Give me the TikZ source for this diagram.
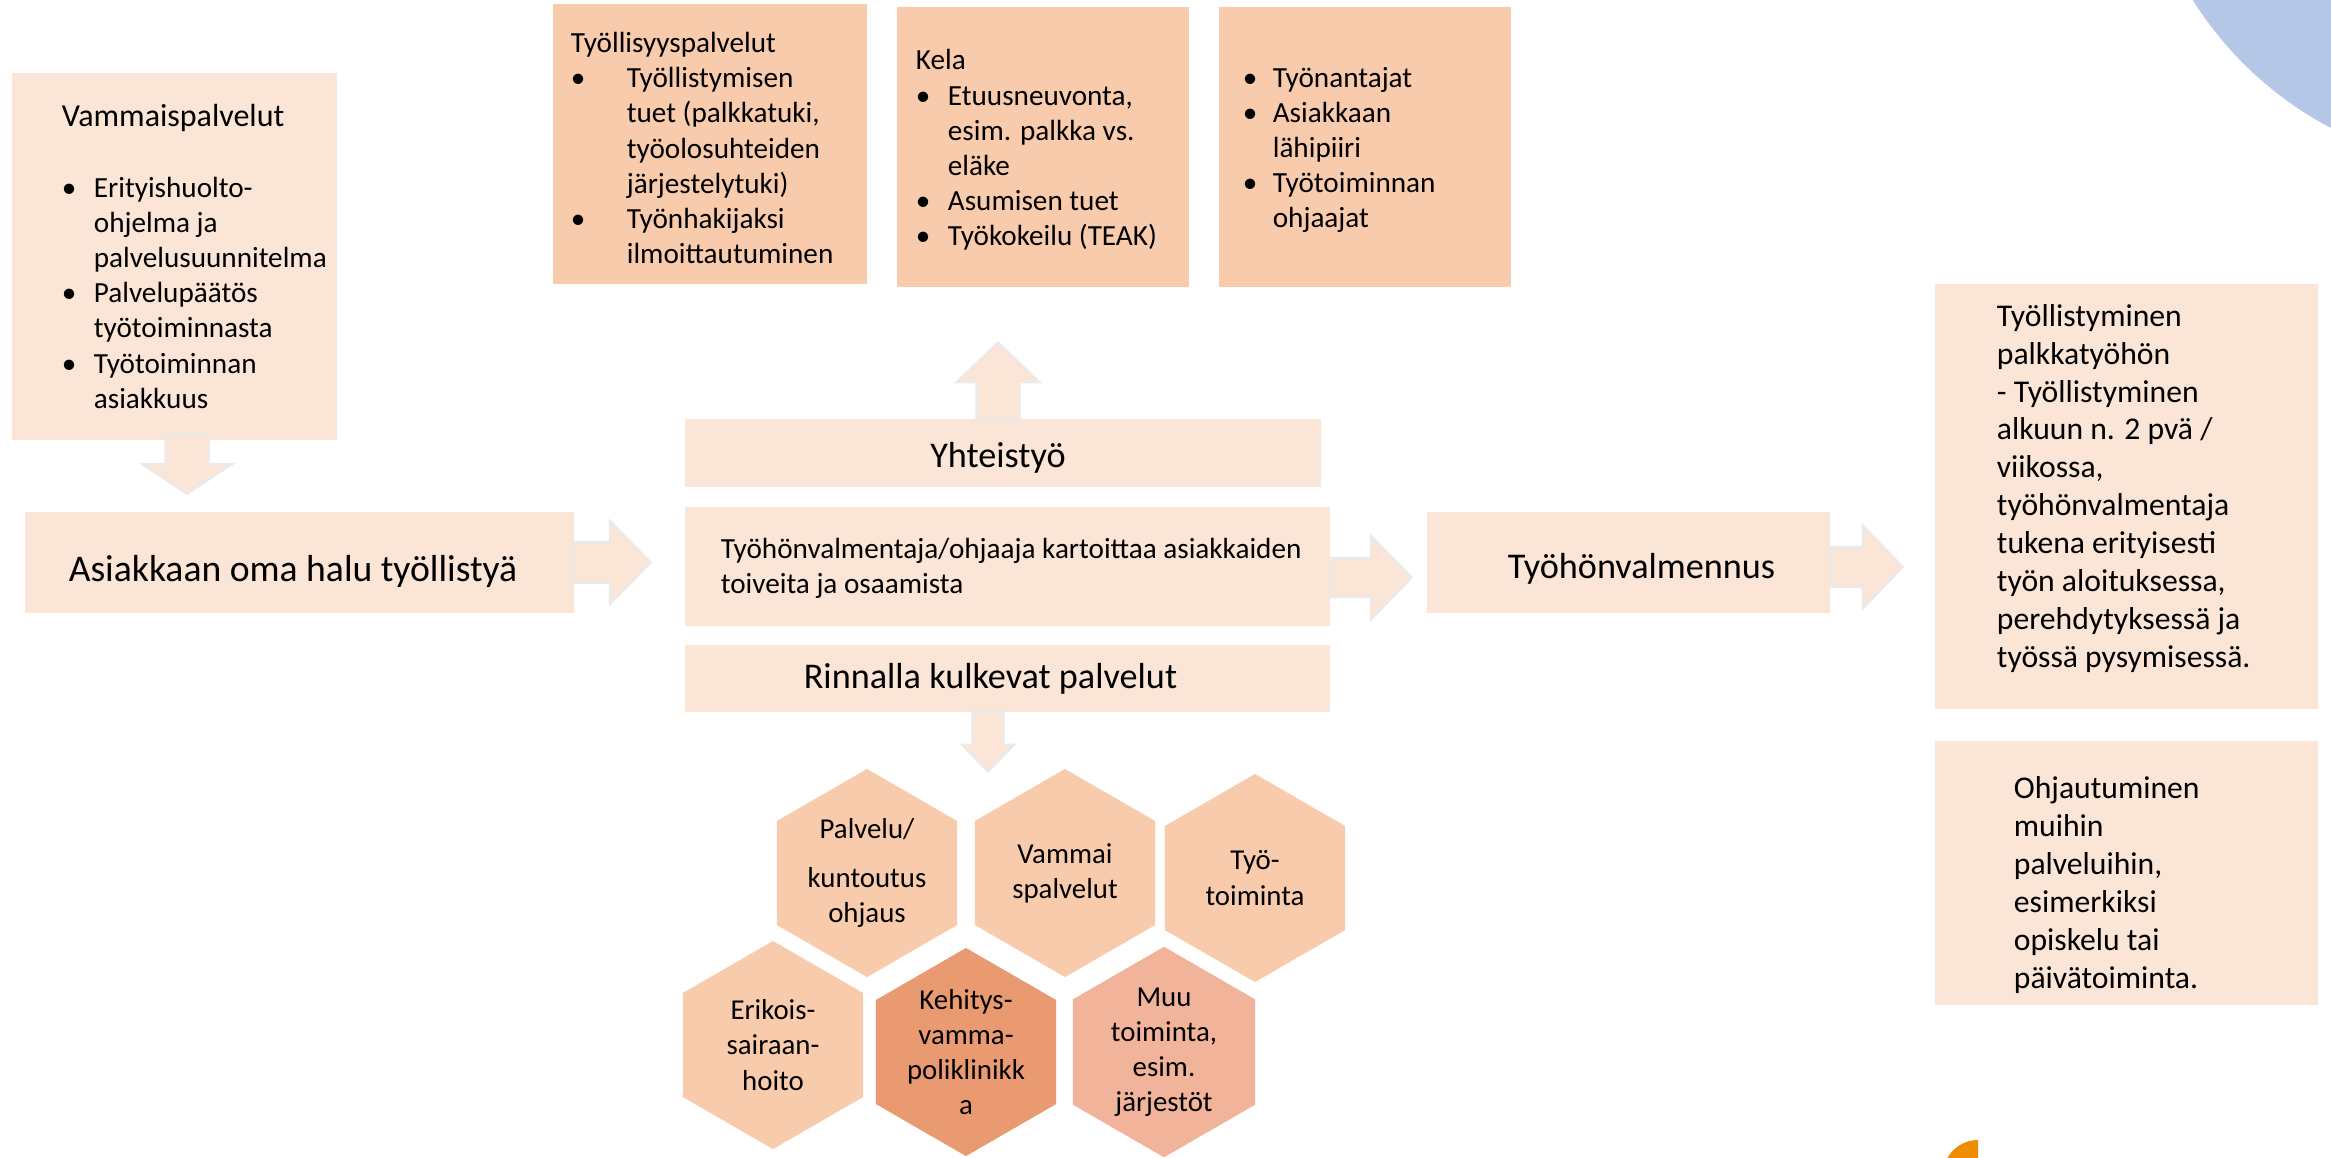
\documentclass[tikz,border=0pt]{standalone}
\usepackage{fontspec}
\setmainfont{Carlito}
\usetikzlibrary{shapes.geometric,calc,positioning}

\definecolor{peachlight}{HTML}{FBE5D6}
\definecolor{peachmid}{HTML}{F8CBAD}
\definecolor{peachdark}{HTML}{EA9A70}
\definecolor{peachpink}{HTML}{F2B39B}
\definecolor{arrowedge}{HTML}{EAEAEA}
\definecolor{circleblue}{HTML}{B4C7E7}
\definecolor{cornerorange}{HTML}{F08C00}

% font sizes
\newcommand\fBig{\fontsize{10.7}{12.8}\selectfont}
\newcommand\fMid{\fontsize{10.3}{12}\selectfont}
\newcommand\fList{\fontsize{8.3}{10}\selectfont}
\newcommand\fHead{\fontsize{9.1}{10}\selectfont}
\newcommand\fHex{\fontsize{8.2}{10}\selectfont}
\newcommand\fSide{\fontsize{9}{10.8}\selectfont}

% bullet and hanging indent
\newcommand\bul[1]{\makebox[#1][l]{\textbullet}}
\newcommand\indt[1]{\hspace*{#1}}

% block arrow: start, rotation, shaft half, shaft length, head half, head length
\newcommand\blockarrow[6]{%
  \filldraw[blockarrow, shift={(#1)}, rotate=#2]
    (0,-#3) -- (#4,-#3) -- (#4,-#5) -- ({#4+#6},0) -- (#4,#5) -- (#4,#3) -- (0,#3) -- cycle;}

\tikzset{
  lightbox/.style={rectangle, fill=peachlight, inner sep=0pt},
  midbox/.style={rectangle, fill=peachmid, inner sep=0pt},
  txt/.style={inner sep=0pt, align=left},
  hexcell/.style={regular polygon, regular polygon sides=6, shape border rotate=90,
    minimum size=2.08cm, inner sep=0pt, fill=peachmid, align=center, font=\fHex},
  blockarrow/.style={fill=peachlight, draw=arrowedge, line width=0.6pt},
}

\begin{document}
\begin{tikzpicture}[x=0.01cm, y=-0.01cm]
  \useasboundingbox (0,0) rectangle (2331,1157);
  \clip (0,0) rectangle (2331,1157);

  % corner shapes
  \fill[circleblue] (2498,-191) circle[radius=360];
  \fill[cornerorange] (1978,1175) -- (1978,1140) arc[start angle=-90, end angle=-180, radius=35] -- cycle;

  % left column
  \node[lightbox, minimum width=3.25cm, minimum height=3.67cm] (vammais) at (174.5,256.5) {};
  \node[txt, anchor=west, font=\fList] (vammaistxt) at ($(vammais.west)+(50,0)$)
    {{\fHead Vammaispalvelut}\\[10pt]
     \bul{9.1pt}Erityishuolto-\\ \indt{9.1pt}ohjelma ja\\ \indt{9.1pt}palvelusuunnitelma\\
     \bul{9.1pt}Palvelupäätös\\ \indt{9.1pt}työtoiminnasta\\
     \bul{9.1pt}Työtoiminnan\\ \indt{9.1pt}asiakkuus};

  \node[lightbox, minimum width=5.49cm, minimum height=1.01cm] (asiakas) at (299.5,562.5) {};
  \node[txt, font=\fBig] (asiakastxt) at ($(asiakas.center)+(-6.5,9)$) {Asiakkaan oma halu työllistyä};

  % top row
  \node[midbox, minimum width=3.14cm, minimum height=2.80cm] (tyollisyys) at (710,144) {};
  \node[txt, anchor=west, font=\fList] (tyollisyystxt) at ($(tyollisyys.west)+(18,4)$)
    {Työllisyyspalvelut\\
     \bul{15.9pt}Työllistymisen\\ \indt{15.9pt}tuet (palkkatuki,\\ \indt{15.9pt}työolosuhteiden\\ \indt{15.9pt}järjestelytuki)\\
     \bul{15.9pt}Työnhakijaksi\\ \indt{15.9pt}ilmoittautuminen};

  \node[midbox, minimum width=2.92cm, minimum height=2.80cm] (kela) at (1043,147) {};
  \node[txt, anchor=west, font=\fList] (kelatxt) at ($(kela.west)+(19,3)$)
    {Kela\\
     \bul{9.1pt}Etuusneuvonta,\\ \indt{9.1pt}esim. palkka vs.\\ \indt{9.1pt}eläke\\
     \bul{9.1pt}Asumisen tuet\\
     \bul{9.1pt}Työkokeilu (TEAK)};

  \node[midbox, minimum width=2.92cm, minimum height=2.80cm] (verkosto) at (1365,147) {};
  \node[txt, anchor=west, font=\fList] (verkostotxt) at ($(verkosto.west)+(24,3)$)
    {\bul{8.5pt}Työnantajat\\
     \bul{8.5pt}Asiakkaan\\ \indt{8.5pt}lähipiiri\\
     \bul{8.5pt}Työtoiminnan\\ \indt{8.5pt}ohjaajat};

  % middle stack
  \node[lightbox, minimum width=6.36cm, minimum height=0.68cm] (yhteistyo) at (1003,453) {};
  \node[txt, font=\fMid] (yhteistyotxt) at ($(yhteistyo.center)+(-5,5)$) {Yhteistyö};

  \node[lightbox, minimum width=6.45cm, minimum height=1.19cm] (kartoitus) at (1007.5,566.5) {};
  \node[txt, anchor=west, font=\fList] (kartoitustxt) at ($(kartoitus.west)+(36,2)$)
    {Työhönvalmentaja/ohjaaja kartoittaa asiakkaiden\\toiveita ja osaamista};

  \node[lightbox, minimum width=6.45cm, minimum height=0.67cm] (rinnalla) at (1007.5,678.5) {};
  \node[txt, font=\fMid] (rinnallatxt) at ($(rinnalla.center)+(-17,0)$) {Rinnalla kulkevat palvelut};

  % right column
  \node[lightbox, minimum width=4.03cm, minimum height=1.01cm] (valmennus) at (1628.5,562.5) {};
  \node[txt, font=\fMid] (valmennustxt) at ($(valmennus.center)+(13,6)$) {Työhönvalmennus};

  \node[lightbox, minimum width=3.83cm, minimum height=4.25cm] (palkkatyo) at (2126.5,496.5) {};
  \node[txt, anchor=west, font=\fSide] (palkkatyotxt) at ($(palkkatyo.west)+(62,-8)$)
    {Työllistyminen\\palkkatyöhön\\- Työllistyminen\\alkuun n. 2 pvä /\\viikossa,\\työhönvalmentaja\\
     tukena erityisesti\\työn aloituksessa,\\perehdytyksessä ja\\työssä pysymisessä.};

  \node[lightbox, minimum width=3.83cm, minimum height=2.64cm] (muihin) at (2126.5,873) {};
  \node[txt, anchor=west, font=\fSide] (muihintxt) at ($(muihin.west)+(79,12)$)
    {Ohjautuminen\\muihin\\palveluihin,\\esimerkiksi\\opiskelu tai\\päivätoiminta.};

  % hexagons
  \node[hexcell] (palvelu) at (867,873) {Palvelu/\\[3.7pt]kuntoutus\\ohjaus};
  \node[hexcell] (vammai) at (1065,873) {Vammai\\spalvelut};
  \node[hexcell] (tyotoim) at (1255,878) {Työ-\\toiminta};
  \node[hexcell] (erikois) at (773,1045) {Erikois-\\sairaan-\\hoito};
  \node[hexcell, fill=peachdark] (kehitys) at (966,1052) {Kehitys-\\vamma-\\poliklinikk\\a};
  \node[hexcell, fill=peachpink] (muu) at (1164,1052) {Muu\\toiminta,\\esim.\\järjestöt};

  % block arrows
  \coordinate (a1) at ($(vammais.south)+(12.5,-7)$);
  \coordinate (a2) at ($(asiakas.east)+(-4,0)$);
  \coordinate (a3) at ($(yhteistyo.north)+(-5,3)$);
  \coordinate (a4) at ($(kartoitus.east)+(0,11)$);
  \coordinate (a5) at ($(rinnalla.south)+(-19.5,0)$);
  \coordinate (a6) at ($(valmennus.east)+(0,4.5)$);
  \blockarrow{a1}{-90}{21.5}{30}{45.5}{30}
  \blockarrow{a2}{0}{20.5}{39}{41.5}{41}
  \blockarrow{a3}{90}{21.5}{39}{41.5}{40}
  \blockarrow{a4}{0}{19.5}{40}{42}{41}
  \blockarrow{a5}{-90}{15.5}{32}{26}{27}
  \blockarrow{a6}{0}{20}{32}{41.5}{40}
\end{tikzpicture}
\end{document}
